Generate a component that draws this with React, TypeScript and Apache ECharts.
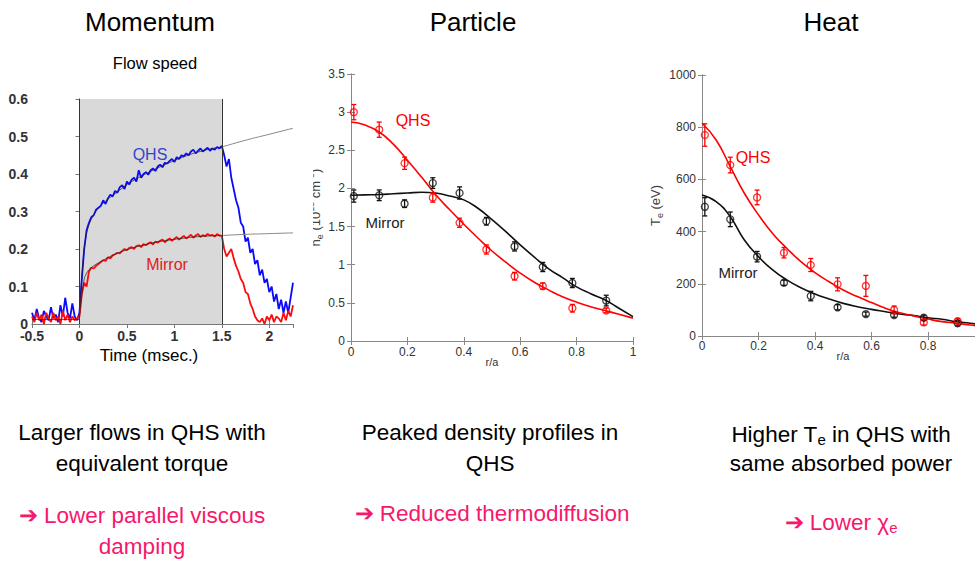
import React, { useEffect, useRef } from "react";
import * as echarts from "echarts";

// ---------- Panel 1: flow speed vs time ----------
const TIME = [
  -0.5, -0.475, -0.45, -0.425, -0.4, -0.375, -0.35, -0.325, -0.3, -0.275,
  -0.25, -0.225, -0.2, -0.175, -0.15, -0.125, -0.1, -0.075, -0.05, -0.025,
  0, 0.025, 0.05, 0.075, 0.1, 0.125, 0.15, 0.175, 0.2, 0.225,
  0.25, 0.275, 0.3, 0.325, 0.35, 0.375, 0.4, 0.425, 0.45, 0.475,
  0.5, 0.525, 0.55, 0.575, 0.6, 0.625, 0.65, 0.675, 0.7, 0.725,
  0.75, 0.775, 0.8, 0.825, 0.85, 0.875, 0.9, 0.925, 0.95, 0.975,
  1, 1.025, 1.05, 1.075, 1.1, 1.125, 1.15, 1.175, 1.2, 1.225,
  1.25, 1.275, 1.3, 1.325, 1.35, 1.375, 1.4, 1.425, 1.45, 1.475,
  1.5, 1.525, 1.55, 1.575, 1.6, 1.625, 1.65, 1.675, 1.7, 1.725,
  1.75, 1.775, 1.8, 1.825, 1.85, 1.875, 1.9, 1.925, 1.95, 1.975,
  2, 2.025, 2.05, 2.075, 2.1, 2.125, 2.15, 2.175, 2.2, 2.225,
  2.25,
];
const QHS_FLOW = [
  0.03, 0.01, 0.04, 0.015, 0.005, 0.035, 0.02, 0.01, 0.045, 0.015,
  0.025, 0.005, 0.05, 0.02, 0.07, 0.03, 0.015, 0.055, 0.02, 0.01,
  0.03, 0.12, 0.2, 0.25, 0.27, 0.285, 0.29, 0.305, 0.31, 0.315,
  0.33, 0.32, 0.335, 0.345, 0.34, 0.355, 0.35, 0.365, 0.37, 0.36,
  0.38, 0.372, 0.385, 0.39, 0.38, 0.41, 0.39, 0.4, 0.405, 0.398,
  0.41, 0.415, 0.408, 0.42, 0.425, 0.418, 0.43, 0.428, 0.435, 0.44,
  0.432, 0.445, 0.44, 0.45, 0.447, 0.455, 0.45, 0.46, 0.465, 0.455,
  0.462, 0.468, 0.46, 0.465, 0.47, 0.462, 0.468, 0.465, 0.472, 0.468,
  0.475, 0.45, 0.42, 0.44, 0.39, 0.36, 0.33, 0.31, 0.27, 0.26,
  0.22, 0.23, 0.19, 0.2, 0.16, 0.17, 0.13, 0.145, 0.11, 0.12,
  0.085, 0.1, 0.06, 0.08, 0.04, 0.065, 0.03, 0.06, 0.03, 0.07,
  0.11,
];
const MIRROR_FLOW = [
  0.02, 0.005, 0.03, 0.01, 0.025, 0.0, 0.03, 0.015, 0.005, 0.03,
  0.01, 0.02, 0.0, 0.035, 0.01, 0.025, 0.005, 0.02, 0.01, 0.015,
  0.02, 0.08, 0.11, 0.1, 0.14, 0.15, 0.148, 0.155, 0.16, 0.165,
  0.17, 0.168, 0.178, 0.175, 0.183, 0.186, 0.19, 0.188, 0.195, 0.2,
  0.197, 0.203, 0.205, 0.2, 0.208, 0.21, 0.205, 0.213, 0.21, 0.215,
  0.218, 0.212, 0.22, 0.217, 0.222, 0.225, 0.218, 0.224, 0.228, 0.222,
  0.227, 0.232, 0.225, 0.23, 0.235, 0.228, 0.233, 0.238, 0.23, 0.236,
  0.24, 0.232, 0.237, 0.234, 0.24, 0.236, 0.238, 0.233, 0.24, 0.236,
  0.235, 0.2, 0.18, 0.19, 0.2, 0.175, 0.155, 0.14, 0.12, 0.11,
  0.085, 0.08, 0.055, 0.04, 0.02, 0.01, 0.005, 0.015, 0.0, 0.02,
  0.01, 0.025, 0.005, 0.02, 0.015, 0.005, 0.03, 0.01, 0.035, 0.02,
  0.05,
];
const FIT_T = [0, 0.05, 0.1, 0.2, 0.3, 0.4, 0.5, 0.6, 0.7, 0.8, 0.9, 1.0, 1.1, 1.2, 1.3, 1.4, 1.5];
const QHS_FIT = [0.03, 0.2, 0.265, 0.31, 0.333, 0.352, 0.372, 0.387, 0.401, 0.413, 0.425, 0.436, 0.446, 0.455, 0.462, 0.468, 0.472];
const MIRROR_FIT = [0.02, 0.12, 0.145, 0.163, 0.177, 0.189, 0.198, 0.206, 0.212, 0.218, 0.222, 0.226, 0.229, 0.232, 0.234, 0.235, 0.236];
const EXT_T = [1.5, 1.75, 2.0, 2.25];
const QHS_EXT = [0.472, 0.49, 0.506, 0.522];
const MIRROR_EXT = [0.236, 0.239, 0.241, 0.243];
const BASE_T = [-0.5, 0];
const BASE_V = [0.012, 0.012];
const PULSE = [0, 1.5];

// ---------- Panel 2: density profiles ----------
const R_DENS = [0.01, 0.1, 0.19, 0.29, 0.385, 0.48, 0.58, 0.68, 0.785, 0.905];
const NE_QHS = [3.0, 2.77, 2.33, 1.88, 1.55, 1.2, 0.85, 0.72, 0.43, 0.4];
const NE_QHS_ERR = [0.1, 0.1, 0.08, 0.06, 0.06, 0.06, 0.05, 0.04, 0.05, 0.03];
const NE_MIR = [1.9, 1.91, 1.8, 2.07, 1.94, 1.57, 1.24, 0.97, 0.76, 0.53];
const NE_MIR_ERR = [0.08, 0.07, 0.05, 0.07, 0.08, 0.05, 0.06, 0.06, 0.06, 0.07];
const R_FIT = [0, 0.05, 0.1, 0.15, 0.2, 0.25, 0.3, 0.35, 0.4, 0.45, 0.5, 0.55, 0.6, 0.65, 0.7, 0.75, 0.8, 0.85, 0.9, 0.95, 1.0];
const NE_QHS_FIT = [2.87, 2.83, 2.74, 2.58, 2.37, 2.15, 1.92, 1.72, 1.53, 1.35, 1.18, 1.03, 0.89, 0.77, 0.67, 0.58, 0.51, 0.45, 0.4, 0.35, 0.3];
const NE_MIR_FIT = [1.91, 1.915, 1.92, 1.93, 1.94, 1.95, 1.94, 1.9, 1.85, 1.74, 1.59, 1.43, 1.26, 1.1, 0.95, 0.83, 0.71, 0.62, 0.54, 0.43, 0.32];

// ---------- Panel 3: temperature profiles ----------
const R_TEMP = [0.01, 0.1, 0.195, 0.29, 0.385, 0.48, 0.58, 0.68, 0.785, 0.905];
const TE_QHS = [770, 655, 531, 319, 272, 198, 192, 100, 52, 57];
const TE_QHS_ERR = [43, 30, 28, 20, 25, 25, 40, 15, 10, 10];
const TE_MIR = [495, 447, 304, 204, 153, 110, 84, 80, 70, 49];
const TE_MIR_ERR = [35, 28, 20, 10, 18, 10, 8, 8, 10, 10];
const TE_QHS_FIT = [815, 751, 649, 547, 464, 393, 336, 285, 243, 208, 176, 151, 128, 106, 89, 77, 65, 55, 49, 42, 36];
const TE_MIR_FIT = [540, 515, 457, 368, 304, 253, 215, 185, 161, 142, 125, 112, 102, 93, 84, 78, 70, 64, 55, 49, 41];

const FONT = "'Liberation Sans', Arial, Helvetica, sans-serif";
const PINK = "#f5186c";

const zip = (xs: number[], ys: number[]) => xs.map((x, i) => [x, ys[i]]);
const zip3 = (xs: number[], ys: number[], es: number[]) => xs.map((x, i) => [x, ys[i], es[i]]);
const plain = (v: number) => String(Math.round(v * 1000) / 1000);

function errorBars(xi: number, data: number[][], color: string) {
  return {
    type: "custom",
    xAxisIndex: xi,
    yAxisIndex: xi,
    data,
    z: 3,
    renderItem: (_p: any, api: any) => {
      const x = api.value(0);
      const y = api.value(1);
      const e = api.value(2);
      const t = api.coord([x, y + e]);
      const b = api.coord([x, y - e]);
      const st = { stroke: color, lineWidth: 1.3 };
      const c = 2.5;
      return {
        type: "group",
        children: [
          { type: "line", shape: { x1: t[0], y1: t[1], x2: b[0], y2: b[1] }, style: st },
          { type: "line", shape: { x1: t[0] - c, y1: t[1], x2: t[0] + c, y2: t[1] }, style: st },
          { type: "line", shape: { x1: b[0] - c, y1: b[1], x2: b[0] + c, y2: b[1] }, style: st },
        ],
      };
    },
  };
}

function axisPair(gridIndex: number, min: number, max: number, interval: number, label: any, lineColor: string, isX: boolean, extra: any = {}) {
  const line = { show: true, lineStyle: { color: lineColor, width: 1 } };
  const tick = { show: true, inside: true, length: 4, lineStyle: { color: lineColor } };
  const main = {
    type: "value",
    gridIndex,
    min,
    max,
    interval,
    position: isX ? "bottom" : "left",
    axisLine: line,
    axisTick: tick,
    splitLine: { show: false },
    axisLabel: { formatter: plain, ...label },
    ...extra,
  };
  const mirror = {
    type: "value",
    gridIndex,
    min,
    max,
    interval,
    position: isX ? "top" : "right",
    axisLine: line,
    axisTick: tick,
    splitLine: { show: false },
    axisLabel: { show: false },
  };
  return [main, mirror];
}

export default function App() {
  const ref = useRef<HTMLDivElement>(null);
  useEffect(() => {
    if (!ref.current) return;
    const chart = echarts.init(ref.current, undefined, { renderer: "svg" });

    const lab1 = { fontSize: 14, color: "#333", fontFamily: FONT, fontWeight: "bold" };
    const lab2 = { fontSize: 12, color: "#333", fontFamily: FONT };

    const [x0, x0m] = axisPair(0, -0.5, 2.25, 0.5, { ...lab1, margin: 5, showMaxLabel: false }, "#777", true);
    const [y0, y0m] = axisPair(0, 0, 0.6, 0.1, { ...lab1, margin: 4 }, "#777", false);
    const [x1, x1m] = axisPair(1, 0, 1, 0.2, { ...lab2, margin: 5 }, "#888", true);
    const [y1, y1m] = axisPair(1, 0, 3.5, 0.5, { ...lab2, margin: 6 }, "#888", false, {
      name: "{n|n}{s|e}{n| (10}{p|13}{n| cm}{p|-3}{n|)}",
      nameLocation: "middle",
      nameGap: 27,
      nameRotate: 90,
      nameTextStyle: {
        color: "#444",
        fontFamily: FONT,
        rich: {
          n: { fontSize: 13, fontFamily: FONT, color: "#444" },
          s: { fontSize: 9, fontFamily: FONT, color: "#444", padding: [9, 0, 0, 0] },
          p: { fontSize: 9, fontFamily: FONT, color: "#444", padding: [0, 0, 9, 0] },
        },
      },
    });
    const [x2, x2m] = axisPair(2, 0, 1, 0.2, { ...lab2, margin: 4, showMaxLabel: false }, "#888", true);
    const [y2, y2m] = axisPair(2, 0, 1000, 200, { ...lab2, margin: 6 }, "#888", false, {
      name: "{n|T}{s|e}{n| (eV)}",
      nameLocation: "middle",
      nameGap: 38,
      nameRotate: 90,
      nameTextStyle: {
        color: "#444",
        fontFamily: FONT,
        rich: {
          n: { fontSize: 13, fontFamily: FONT, color: "#444" },
          s: { fontSize: 9, fontFamily: FONT, color: "#444", padding: [9, 0, 0, 0] },
        },
      },
    });

    const lineS = (xi: number, data: number[][], color: string, width: number, z = 2, smooth: any = false) => ({
      type: "line",
      xAxisIndex: xi,
      yAxisIndex: xi,
      data,
      symbol: "none",
      smooth,
      z,
      lineStyle: { color, width },
      silent: true,
    });
    const scat = (xi: number, data: number[][], color: string) => ({
      type: "scatter",
      xAxisIndex: xi,
      yAxisIndex: xi,
      data,
      symbol: "circle",
      symbolSize: 7,
      z: 4,
      itemStyle: { color: "rgba(255,255,255,0)", borderColor: color, borderWidth: 1.3 },
    });

    const txt = (x: number, y: number, text: string, size: number, color: string, extra: any = {}) => ({
      type: "text",
      x,
      y,
      z: 50,
      style: {
        text,
        fill: color,
        fontSize: size,
        fontFamily: FONT,
        textAlign: "center",
        textVerticalAlign: "middle",
        ...extra,
      },
    });

    const subRich = (size: number, color: string) => ({
      n: { fontSize: size, fontFamily: FONT, fill: color, color, lineHeight: 26 },
      s: { fontSize: Math.round(size * 0.65), fontFamily: FONT, fill: color, color, lineHeight: 14, padding: [17, 0, 0, 0], verticalAlign: "bottom" },
    });

    const gridBase = { outerBoundsMode: "none", containLabel: false };

    chart.setOption({
      animation: false,
      backgroundColor: "#ffffff",
      grid: [
        { ...gridBase, left: 32, top: 99, width: 261, height: 225 },
        { ...gridBase, left: 351, top: 74, width: 282, height: 267 },
        { ...gridBase, left: 702, top: 75, width: 282.5, height: 261 },
      ],
      xAxis: [x0, x0m, x1, x1m, x2, x2m],
      yAxis: [y0, y0m, y1, y1m, y2, y2m],
      series: [
        // Panel 1
        {
          type: "line",
          xAxisIndex: 0,
          yAxisIndex: 0,
          data: zip(PULSE, [0, 0]),
          symbol: "none",
          lineStyle: { width: 0 },
          z: 1,
          silent: true,
          markArea: {
            silent: true,
            itemStyle: { color: "#d9d9d9" },
            data: [[{ xAxis: PULSE[0] }, { xAxis: PULSE[1] }]],
          },
          markLine: {
            silent: true,
            symbol: "none",
            label: { show: false },
            lineStyle: { color: "#333", width: 1, type: "solid" },
            data: [{ xAxis: PULSE[0] }, { xAxis: PULSE[1] }],
          },
        },
        lineS(0, zip(TIME, QHS_FLOW), "#0a0aff", 1.8, 2),
        lineS(0, zip(TIME, MIRROR_FLOW), "#ff0a0a", 1.8, 3),
        lineS(0, zip(FIT_T, QHS_FIT), "#222", 0.7, 4, 0.3),
        lineS(0, zip(FIT_T, MIRROR_FIT), "#222", 0.7, 4, 0.3),
        lineS(0, zip(BASE_T, BASE_V), "#222", 0.7, 4),
        lineS(0, zip(EXT_T, QHS_EXT), "#888", 1, 4, true),
        lineS(0, zip(EXT_T, MIRROR_EXT), "#888", 1, 4, true),
        // Panel 2
        lineS(2, zip(R_FIT, NE_MIR_FIT), "#111", 1.6, 2, true),
        lineS(2, zip(R_FIT, NE_QHS_FIT), "#ff0000", 1.6, 2, true),
        errorBars(2, zip3(R_DENS, NE_MIR, NE_MIR_ERR), "#111"),
        errorBars(2, zip3(R_DENS, NE_QHS, NE_QHS_ERR), "#ff0000"),
        scat(2, zip(R_DENS, NE_MIR), "#111"),
        scat(2, zip(R_DENS, NE_QHS), "#ff0000"),
        // Panel 3
        lineS(4, zip(R_FIT, TE_MIR_FIT), "#111", 1.6, 2, true),
        lineS(4, zip(R_FIT, TE_QHS_FIT), "#ff0000", 1.6, 2, true),
        errorBars(4, zip3(R_TEMP, TE_MIR, TE_MIR_ERR), "#111"),
        errorBars(4, zip3(R_TEMP, TE_QHS, TE_QHS_ERR), "#ff0000"),
        scat(4, zip(R_TEMP, TE_MIR), "#111"),
        scat(4, zip(R_TEMP, TE_QHS), "#ff0000"),
      ],
      graphic: [
        // cover left edge of panel 2 (cropped image edge)
        { type: "rect", z: 40, shape: { x: 298, y: 110, width: 15, height: 190 }, style: { fill: "#ffffff" } },
        // Titles
        txt(150, 22, "Momentum", 26, "#000"),
        txt(473, 22, "Particle", 26, "#000"),
        txt(831, 22, "Heat", 26, "#000"),
        txt(155, 63, "Flow speed", 16.5, "#000"),
        // Panel labels
        txt(149, 355, "Time (msec.)", 17, "#000"),
        txt(492, 362, "r/a", 11, "#333"),
        txt(843, 356, "r/a", 11, "#333"),
        txt(150, 154, "QHS", 16, "#3344cc"),
        txt(167, 264, "Mirror", 16, "#e02020"),
        txt(413, 120, "QHS", 16, "#ff0000"),
        txt(385, 222, "Mirror", 15, "#222"),
        txt(753, 157, "QHS", 16, "#ff0000"),
        txt(738, 272, "Mirror", 15, "#222"),
        // Bottom captions
        txt(142, 432, "Larger flows in QHS with", 22.5, "#000"),
        txt(142, 463, "equivalent torque", 22.5, "#000"),
        txt(142, 515, "➔ Lower parallel viscous", 22.5, PINK),
        txt(142, 546, "damping", 22.5, PINK),
        txt(490, 432, "Peaked density profiles in", 22.5, "#000"),
        txt(490, 463, "QHS", 22.5, "#000"),
        txt(492, 513, "➔ Reduced thermodiffusion", 22.5, PINK),
        txt(841, 434, "{n|Higher T}{s|e}{n| in QHS with}", 22.5, "#000", { rich: subRich(22.5, "#000") }),
        txt(841, 463, "same absorbed power", 22.5, "#000"),
        txt(841, 522, "{n|➔ Lower χ}{s|e}", 22.5, PINK, { rich: subRich(22.5, PINK) }),
      ],
    });
    return () => chart.dispose();
  }, []);
  return (
    <div
      ref={ref}
      style={{ position: "fixed", left: 0, top: 0, width: 975, height: 561, background: "#fff" }}
    />
  );
}
